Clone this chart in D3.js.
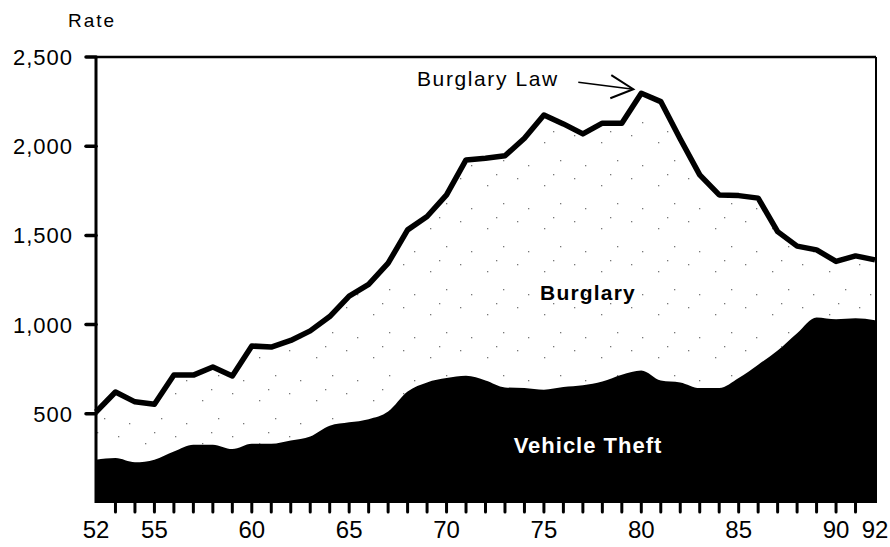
<!DOCTYPE html>
<html>
<head>
<meta charset="utf-8">
<script src="https://cdn.jsdelivr.net/npm/d3@7/dist/d3.min.js"></script>
<style>
  html, body { margin: 0; padding: 0; background: #fff; }
  svg { display: block; font-family: "Liberation Sans", Arial, Helvetica, sans-serif; }
</style>
</head>
<body>
<svg id="chart" width="890" height="547"></svg>
<script>
// ---- Data ----
const years = [52,53,54,55,56,57,58,59,60,61,62,63,64,65,66,67,68,69,70,71,72,73,74,75,76,77,78,79,80,81,82,83,84,85,86,87,88,89,90,91,92];
// Top line: burglary + vehicle theft rate
const totalRate = [510,622,567,554,717,717,762,712,880,874,911,965,1045,1160,1225,1344,1531,1606,1727,1923,1933,1946,2045,2175,2125,2069,2129,2129,2297,2250,2040,1839,1727,1723,1709,1521,1440,1419,1354,1385,1363];
// Vehicle theft rate (black area)
const vehicleRate = [243,252,228,243,289,327,327,302,332,332,350,373,433,452,470,513,625,676,700,713,687,648,644,635,650,660,681,719,743,687,676,644,644,700,775,855,952,1040,1030,1035,1025];
const yTicks = [500, 1000, 1500, 2000, 2500];
const xLabels = [52,55,60,65,70,75,80,85,90,92];

const svg = d3.select("#chart");
const x = d3.scaleLinear().domain([52, 92]).range([96, 875]);
const y = d3.scaleLinear().domain([0, 2500]).range([503, 57]);

const data = years.map((yr, i) => ({yr, total: totalRate[i], veh: vehicleRate[i]}));

// sparse stipple pattern for burglary area
const defs = svg.append("defs");
const pat = defs.append("pattern").attr("id", "stip").attr("patternUnits", "userSpaceOnUse")
  .attr("width", 57).attr("height", 43);
pat.append("rect").attr("width", 57).attr("height", 43).attr("fill", "#fff");
[[4,6],[31,13],[47,31],[15,36],[40,2]].forEach(([a,b]) => {
  pat.append("rect").attr("x", a).attr("y", b).attr("width", 1.3).attr("height", 1.3).attr("fill", "#777");
});

// burglary area (between vehicle and total)
svg.append("path").datum(data)
  .attr("d", d3.area().x(d => x(d.yr)).y0(d => y(d.veh)).y1(d => y(d.total)))
  .attr("fill", "url(#stip)");

// vehicle theft area
svg.append("path").datum(data)
  .attr("d", d3.area().curve(d3.curveMonotoneX).x(d => x(d.yr)).y0(y(0)).y1(d => y(d.veh)))
  .attr("fill", "#000");

// frame: top and right
svg.append("line").attr("x1", x(52)).attr("x2", 876).attr("y1", y(2500)).attr("y2", y(2500))
  .attr("stroke", "#000").attr("stroke-width", 2.5);
svg.append("line").attr("x1", 876).attr("x2", 876).attr("y1", y(2500)).attr("y2", y(0))
  .attr("stroke", "#000").attr("stroke-width", 2);

// left axis
svg.append("line").attr("x1", 96).attr("x2", 96).attr("y1", y(2500) - 1).attr("y2", y(0))
  .attr("stroke", "#000").attr("stroke-width", 3);
const yAxis = svg.append("g");
yTicks.forEach(t => {
  yAxis.append("line").attr("x1", 86).attr("x2", 96).attr("y1", y(t)).attr("y2", y(t))
    .attr("stroke", "#000").attr("stroke-width", 3.5).attr("stroke-linecap", "round");
  yAxis.append("text").attr("x", 73).attr("y", y(t) + 8).attr("text-anchor", "end")
    .attr("font-size", 22).attr("letter-spacing", 1).attr("fill", "#000")
    .text(d3.format(",")(t));
});

// total line
svg.append("path").datum(data)
  .attr("d", d3.line().x(d => x(d.yr)).y(d => y(d.total)))
  .attr("fill", "none").attr("stroke", "#000").attr("stroke-width", 5.5)
  .attr("stroke-linejoin", "round");

// x ticks
const xAxis = svg.append("g");
years.filter(yr => yr > 52 && yr < 92).forEach(yr => {
  xAxis.append("line").attr("x1", x(yr)).attr("x2", x(yr)).attr("y1", y(0)).attr("y2", y(0) + 9)
    .attr("stroke", "#000").attr("stroke-width", 3).attr("stroke-linecap", "round");
});
xLabels.forEach(l => {
  xAxis.append("text").attr("x", x(l)).attr("y", 538).attr("text-anchor", "middle")
    .attr("font-size", 24).attr("fill", "#000").text(l);
});

// titles & labels
svg.append("text").attr("x", 68).attr("y", 27).attr("font-size", 19).attr("letter-spacing", 2)
  .attr("fill", "#000").text("Rate");
svg.append("text").attr("x", 588).attr("y", 300).attr("text-anchor", "middle")
  .attr("font-size", 21).attr("font-weight", "bold").attr("letter-spacing", 1.2)
  .attr("fill", "#000").text("Burglary");
svg.append("text").attr("x", 588).attr("y", 453).attr("text-anchor", "middle")
  .attr("font-size", 22).attr("font-weight", "bold").attr("letter-spacing", 1)
  .attr("fill", "#fff").text("Vehicle Theft");

// annotation
const peakIdx = totalRate.indexOf(d3.max(totalRate));
const tipX = x(years[peakIdx]) - 8, tipY = y(totalRate[peakIdx]) - 4;
svg.append("text").attr("x", 417).attr("y", 86).attr("font-size", 21).attr("letter-spacing", 1.6)
  .attr("fill", "#000").text("Burglary Law");
svg.append("line").attr("x1", tipX - 55).attr("y1", tipY - 7).attr("x2", tipX).attr("y2", tipY)
  .attr("stroke", "#000").attr("stroke-width", 1.5);
svg.append("polyline")
  .attr("points", `${tipX-22},${tipY-14} ${tipX},${tipY} ${tipX-23},${tipY+9}`)
  .attr("fill", "none").attr("stroke", "#000").attr("stroke-width", 2);
</script>
</body>
</html>
